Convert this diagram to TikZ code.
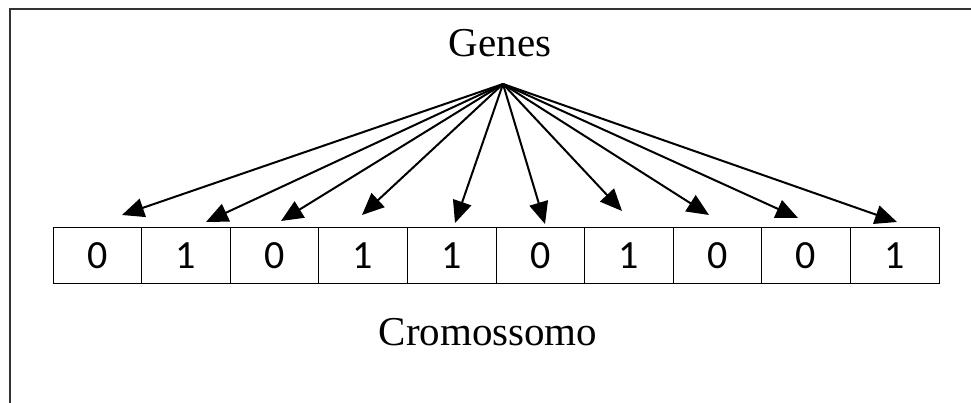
\documentclass[tikz,border=0pt]{standalone}
\usepackage{fontspec}
\setmainfont{Liberation Serif}
\newfontfamily\cellfont{Carlito}
\usetikzlibrary{arrows.meta}
\tikzset{
  frameline/.style={line width=1.6pt, draw=black!80},
  cellbox/.style={draw=black, line width=1pt, minimum width=88.6pt, minimum height=55pt, inner sep=0pt, font=\cellfont\fontsize{40}{44}\selectfont},
  label/.style={font=\fontsize{41}{46}\selectfont, inner sep=0pt, anchor=base},
  genearrow/.style={line width=2pt, -{Triangle[length=22pt,width=19pt]}, shorten >=0pt}
}
\begin{document}
\begin{tikzpicture}[x=1pt,y=-1pt]
\useasboundingbox (0,0) rectangle (971,403);
\draw[frameline] (10,403) -- (10,9) -- (971,9);
\node[label] (genes) at (500,57) {Genes};
\node[label] (crom) at (488,345) {Cromossomo};
\foreach \v [count=\i] in {0,1,0,1,1,0,1,0,0,1} {
  \node[cellbox] (c\i) at ({53+88.6*(\i-0.5)},255.5) {\v};
}
\coordinate (apex) at (503,84);
\coordinate (t1) at (122,215);
\coordinate (t2) at (206,222);
\coordinate (t3) at (281,221);
\coordinate (t4) at (362,215);
\coordinate (t5) at (455,223);
\coordinate (t6) at (545,224);
\coordinate (t7) at (622,211);
\coordinate (t8) at (709,215);
\coordinate (t9) at (798,218);
\coordinate (t10) at (897,222);
\foreach \i in {1,...,10} {
  \draw[genearrow] (apex) -- (t\i);
}
\end{tikzpicture}
\end{document}
